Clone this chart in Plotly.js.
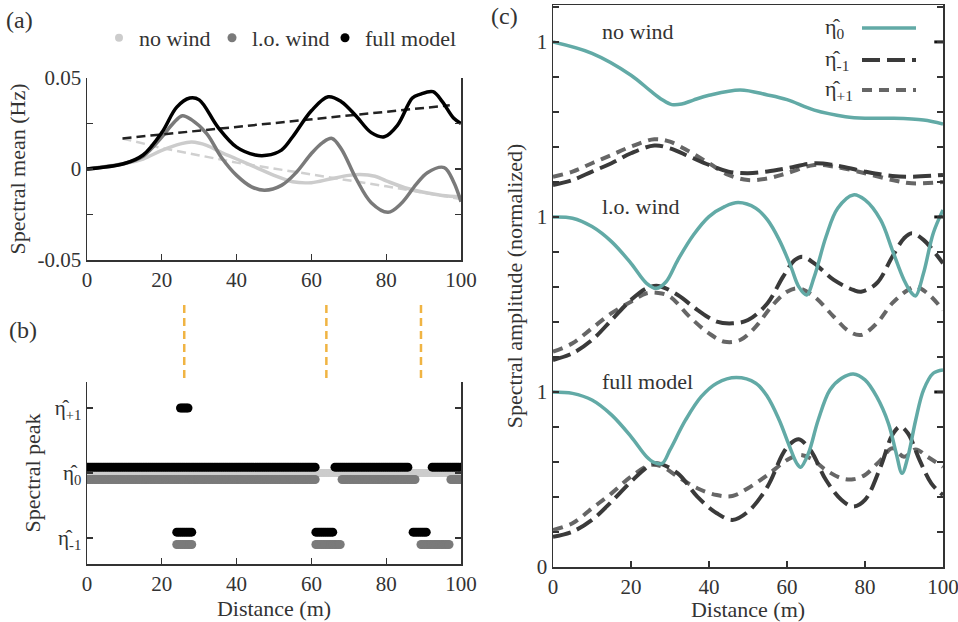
<!DOCTYPE html>
<html>
<head>
<meta charset="utf-8">
<script src="https://cdn.plot.ly/plotly-3.0.1.min.js"></script>
<style>html,body{margin:0;padding:0;background:#fff;}#plot{width:958px;height:622px;}</style>
</head>
<body>
<div id="plot"></div>
<script>
// ---------- Panel (a): spectral mean (Hz) ----------
const aNoX = [0,10,15,20,25,28,32,36,40,45,50,55,60,65,70,73,77,80,85,90,95,100];
const aNoY = [0,0.003,0.0055,0.0102,0.0138,0.0148,0.013,0.009,0.0055,0.001,-0.0035,-0.007,-0.0075,-0.0055,-0.0035,-0.003,-0.004,-0.0065,-0.0103,-0.0128,-0.0145,-0.0152];
const aLoX = [0,10,15,20,23,25.5,28,32,36,40,44,47.5,52,56,60,63,65.5,68,72,76,80.5,84,88,91,95.5,98,100];
const aLoY = [0,0.003,0.007,0.0175,0.025,0.0293,0.027,0.0195,0.0062,-0.0035,-0.0098,-0.0117,-0.009,-0.0018,0.0085,0.0145,0.0168,0.011,-0.0055,-0.0185,-0.0238,-0.019,-0.0085,-0.002,0.0008,-0.007,-0.018];
const aFullX = [0,10,15,20,24,27.5,30,35,40,45,48,52,55,60,64.5,68,72,76,79.5,83,87,89,92.5,95,98,100];
const aFullY = [0,0.003,0.0077,0.02,0.034,0.039,0.038,0.023,0.012,0.0077,0.0075,0.0104,0.0177,0.032,0.0397,0.037,0.029,0.02,0.0177,0.024,0.039,0.041,0.0425,0.037,0.028,0.025];
const aFullTrendX = [9.5,97];
const aFullTrendY = [0.0168,0.035];
const aNoTrendX = [9.5,20,40,60,80,100];
const aNoTrendY = [0.0168,0.0115,0.0035,-0.003,-0.0095,-0.0165];
const aYTicks = [-0.05,0,0.05];
const aYText = ['-0.05','0','0.05'];
const aYMinor = [-0.025,0.025];

// ---------- Panel (b): spectral peak runs ----------
// level: +1 = eta_{+1}, 0 = eta_0, -1 = eta_{-1}; shift = vertical offset of the row
const bFullLevel = [0,0,0,-1,-1,-1,1];
const bFullStart = [0,66.3,92.3,24,61.2,87.2,25];
const bFullEnd   = [61,85.8,100,28,66,91,27.3];
const bFullShift = [0.09,0.09,0.09,0.09,0.09,0.09,0];
const bLoLevel = [0,0,0,-1,-1,-1];
const bLoStart = [0,68.2,97.3,24,61.2,89.3];
const bLoEnd   = [61,88,100,28,68,97];
const bLoShift = [-0.1,-0.1,-0.1,-0.1,-0.1,-0.1];
const bNoLevel = [0];
const bNoStart = [0];
const bNoEnd   = [100];
const bNoShift = [0];
const bStep = 0.5;   // sampling distance of the peak detection (m)
const bYTicks = [-1,0,1];
const bYText = ['η\u0302<sub>-1</sub>','η\u0302<sub>0</sub>','η\u0302<sub>+1</sub>'];
const windowX = [26,64,89.3];

// ---------- Panel (c): spectral amplitudes ----------
const cGroups = ['no wind','l.o. wind','full model'];
const cOffsets = [2,1,0];
const cNoX0 = [0,10,20,25,28,30.5,33,36,40,48,55,60,67,75,80,87,95,100];
const cNoY0 = [1.0,0.935,0.81,0.72,0.67,0.642,0.645,0.668,0.695,0.726,0.697,0.67,0.61,0.573,0.564,0.564,0.554,0.531];
const cNoXm = [0,5,10,15,20,26,30,35,40,45,50,55,60,67,72,80,87,92,100];
const cNoYm = [0.183,0.211,0.259,0.307,0.364,0.408,0.392,0.345,0.297,0.259,0.25,0.26,0.278,0.307,0.297,0.259,0.234,0.23,0.24];
const cNoXp = [0,5,10,15,20,26,30,35,40,45,50,55,60,67,72,80,87,92,100];
const cNoYp = [0.23,0.259,0.307,0.354,0.402,0.444,0.43,0.373,0.307,0.24,0.211,0.22,0.25,0.297,0.288,0.25,0.211,0.192,0.2];
const cLoX0 = [0,5,10,15,20,24,26.5,29,32,36,40,44,47.5,52,55,58,61,63,65,67,70,73,77,80,84,87,90,92,93,95,97.5,100];
const cLoY0 = [1.0,0.993,0.945,0.859,0.735,0.621,0.592,0.63,0.754,0.897,1.002,1.059,1.082,1.05,0.983,0.869,0.716,0.602,0.554,0.659,0.887,1.05,1.126,1.097,0.983,0.811,0.64,0.564,0.549,0.678,0.907,1.04];
const cLoXm = [0,5,10,15,20,24,27,32,37,42,46,50,55,59,62,64,67,72,77,79,83,87,90,92,95,100];
const cLoYm = [0.183,0.221,0.297,0.411,0.526,0.592,0.606,0.554,0.469,0.402,0.392,0.411,0.507,0.659,0.754,0.773,0.735,0.64,0.583,0.573,0.621,0.773,0.878,0.907,0.869,0.735];
const cLoXp = [0,5,10,15,20,24,27,30,35,40,44,48,52,56,60,63,67,72,76,79,83,87,91,93,96,100];
const cLoYp = [0.23,0.278,0.364,0.45,0.516,0.564,0.566,0.545,0.43,0.335,0.287,0.297,0.373,0.488,0.573,0.592,0.545,0.43,0.345,0.326,0.392,0.507,0.583,0.602,0.564,0.469];
const cFullX0 = [0,5,10,15,20,24,26,28,30,34,38,42,47,52,55,58,60.5,62.5,63.5,65.5,68,71,74,77,80,83,86,88,89.5,91,93,95,97.5,100];
const cFullY0 = [1.0,0.992,0.954,0.869,0.745,0.63,0.596,0.592,0.669,0.84,0.973,1.05,1.082,1.05,0.973,0.84,0.697,0.592,0.57,0.65,0.84,1.011,1.078,1.103,1.069,0.973,0.821,0.65,0.535,0.63,0.84,1.011,1.107,1.126];
const cFullXm = [0,5,10,15,20,25,27,32,37,42,46,50,55,59,61,63,66,70,74,77,80,84,87,89,91,94,97,100];
const cFullYm = [0.173,0.202,0.269,0.373,0.488,0.583,0.592,0.535,0.402,0.307,0.269,0.316,0.459,0.65,0.707,0.73,0.669,0.497,0.383,0.345,0.383,0.573,0.754,0.802,0.764,0.611,0.478,0.411];
const cFullXp = [0,5,10,15,20,25,28,32,37,42,46,50,55,60,63,66,70,74,77,80,84,87,90,93,96,100];
const cFullYp = [0.211,0.25,0.335,0.421,0.516,0.583,0.573,0.516,0.45,0.411,0.406,0.45,0.526,0.611,0.64,0.621,0.554,0.507,0.501,0.526,0.611,0.678,0.63,0.672,0.63,0.573];
const cYTicks = [0,1,2,3];
const cYText = ['0','1','1','1'];
const cYMinor = [0.2,0.4,0.6,0.8,1.2,1.4,1.6,1.8,2.2,2.4,2.6,2.8,3.2];
const cLegendNames = ['η\u0302<sub>0</sub>','η\u0302<sub>-1</sub>','η\u0302<sub>+1</sub>'];

// ---------- styles ----------
const FONT = 'Liberation Serif';
const TXT = '#333333';
const cNoColor = '#cccccc', cLoColor = '#7a7a7a', cFullColor = '#000000';
const teal = '#62aaa6', dkgray = '#3a3a3a', mdgray = '#666666';
const longDash = '18px,7px', shortDash = '10px,7px';

function runs(level, start, end, shift){
  const xs = [], ys = [];
  for(let i=0;i<level.length;i++){
    for(let x=start[i]; x<=end[i]+1e-9; x+=bStep){ xs.push(x); ys.push(level[i]+shift[i]); }
  }
  return {xs, ys};
}
const bNo = runs(bNoLevel,bNoStart,bNoEnd,bNoShift);
const bLo = runs(bLoLevel,bLoStart,bLoEnd,bLoShift);
const bFull = runs(bFullLevel,bFullStart,bFullEnd,bFullShift);

const traces = [];
// (a)
traces.push({x:aNoTrendX,y:aNoTrendY,xaxis:'x',yaxis:'y',mode:'lines',line:{color:'#d0d0d0',width:2.5,dash:'9px,5px'},showlegend:false,hoverinfo:'skip'});
traces.push({x:aNoX,y:aNoY,xaxis:'x',yaxis:'y',mode:'lines',line:{color:cNoColor,width:3.5,shape:'spline'},showlegend:false});
traces.push({x:aLoX,y:aLoY,xaxis:'x',yaxis:'y',mode:'lines',line:{color:cLoColor,width:3.5,shape:'spline'},showlegend:false});
traces.push({x:aFullTrendX,y:aFullTrendY,xaxis:'x',yaxis:'y',mode:'lines',line:{color:'#222',width:2.5,dash:'9px,5px'},showlegend:false,hoverinfo:'skip'});
traces.push({x:aFullX,y:aFullY,xaxis:'x',yaxis:'y',mode:'lines',line:{color:cFullColor,width:3.5,shape:'spline'},showlegend:false});
// (b) – these also carry the legend of (a)
traces.push({x:bNo.xs,y:bNo.ys,xaxis:'x2',yaxis:'y2',mode:'markers',name:'no wind',marker:{color:cNoColor,size:8}});
traces.push({x:bLo.xs,y:bLo.ys,xaxis:'x2',yaxis:'y2',mode:'markers',name:'l.o. wind',marker:{color:cLoColor,size:9}});
traces.push({x:bFull.xs,y:bFull.ys,xaxis:'x2',yaxis:'y2',mode:'markers',name:'full model',legendwidth:112,marker:{color:cFullColor,size:9}});
// window lines between (a) and (b)
windowX.forEach(w=>{
  traces.push({x:[w,w],y:[0,1],xaxis:'x4',yaxis:'y4',mode:'lines',line:{color:'#f0b443',width:2.5,dash:'8px,5px'},showlegend:false,hoverinfo:'skip'});
});
// (c)
const cSets = [
  [cNoX0,cNoY0,cNoXm,cNoYm,cNoXp,cNoYp],
  [cLoX0,cLoY0,cLoXm,cLoYm,cLoXp,cLoYp],
  [cFullX0,cFullY0,cFullXm,cFullYm,cFullXp,cFullYp]
];
cSets.forEach((s,gi)=>{
  const off = cOffsets[gi];
  const sh = v=>v.map(q=>q+off);
  traces.push({x:s[4],y:sh(s[5]),xaxis:'x3',yaxis:'y3',mode:'lines',line:{color:mdgray,width:4,dash:shortDash,shape:'spline'},showlegend:false});
  traces.push({x:s[2],y:sh(s[3]),xaxis:'x3',yaxis:'y3',mode:'lines',line:{color:dkgray,width:4,dash:longDash,shape:'spline'},showlegend:false});
  traces.push({x:s[0],y:sh(s[1]),xaxis:'x3',yaxis:'y3',mode:'lines',line:{color:teal,width:3.5,shape:'spline'},showlegend:false});
});
// reference marks at the normalisation level of each group (right edge)
traces.push({x:cOffsets.map(()=>99.2),y:cOffsets.map(o=>o+1),xaxis:'x3',yaxis:'y3',mode:'markers',
  marker:{symbol:'line-ew',size:8,line:{color:'#111',width:3}},showlegend:false,hoverinfo:'skip'});

// ---------- layout helpers ----------
const W=958,H=622;
const px = v=>v/W, py = v=>1-v/H;
const tickFont = {family:FONT,size:21,color:TXT};
const titleFont = {family:FONT,size:22,color:TXT};
const axBase = {showgrid:false,zeroline:false,showline:true,linecolor:'#333',linewidth:1.5,ticks:'inside',ticklen:6,tickcolor:'#333',tickwidth:1.3,tickfont:tickFont,ticklabeloverflow:'allow'};
const minorTicks = v=>({tickmode:'array',tickvals:v,ticks:'inside',ticklen:6,tickcolor:'#333',tickwidth:1.3,showgrid:false});

const layout = {
  width:W,height:H,margin:{l:0,r:0,t:0,b:0},paper_bgcolor:'#fff',plot_bgcolor:'rgba(0,0,0,0)',
  font:{family:FONT,color:TXT,size:21},
  showlegend:true,
  legend:{orientation:'h',x:px(99),y:py(38),xanchor:'left',yanchor:'middle',font:{family:FONT,size:22,color:TXT},
          bgcolor:'rgba(0,0,0,0)',itemwidth:30,tracegroupgap:0,entrywidth:68,entrywidthmode:'pixels'},
  xaxis:Object.assign({},axBase,{domain:[px(87),px(461)],range:[0,100],anchor:'y',tickvals:[0,20,40,60,80,100],mirror:false}),
  yaxis:Object.assign({},axBase,{domain:[py(260),py(78)],range:[-0.05,0.05],anchor:'x',tickvals:aYTicks,ticktext:aYText,mirror:'ticks',
          minor:minorTicks(aYMinor),title:{text:'Spectral mean (Hz)',font:titleFont,standoff:6}}),
  xaxis2:Object.assign({},axBase,{domain:[px(87),px(461)],range:[0,100],anchor:'y2',tickvals:[0,20,40,60,80,100],mirror:false,
          title:{text:'Distance (m)',font:titleFont,standoff:4}}),
  yaxis2:Object.assign({},axBase,{domain:[py(564),py(382)],range:[-1.4,1.4],anchor:'x2',tickvals:bYTicks,ticktext:bYText,mirror:'ticks',
          title:{text:'Spectral peak',font:titleFont,standoff:8}}),
  xaxis3:Object.assign({},axBase,{domain:[px(553),px(943)],range:[0,100],anchor:'y3',tickvals:[0,20,40,60,80,100],mirror:true,
          title:{text:'Distance (m)',font:titleFont,standoff:4}}),
  yaxis3:Object.assign({},axBase,{domain:[py(567),py(5)],range:[0,3.211],anchor:'x3',tickvals:cYTicks,ticktext:cYText,mirror:'ticks',
          minor:minorTicks(cYMinor),title:{text:'Spectral amplitude (normalized)',font:titleFont,standoff:8}}),
  xaxis4:{domain:[px(87),px(461)],range:[0,100],anchor:'y4',visible:false,showgrid:false,zeroline:false},
  yaxis4:{domain:[py(378),py(303)],range:[0,1],anchor:'x4',visible:false,showgrid:false,zeroline:false},
  annotations:[
    {text:'(a)',xref:'paper',yref:'paper',x:px(4),y:py(20),xanchor:'left',yanchor:'middle',showarrow:false,font:{family:FONT,size:24,color:TXT}},
    {text:'(b)',xref:'paper',yref:'paper',x:px(7),y:py(330),xanchor:'left',yanchor:'middle',showarrow:false,font:{family:FONT,size:24,color:TXT}},
    {text:'(c)',xref:'paper',yref:'paper',x:px(489),y:py(16),xanchor:'left',yanchor:'middle',showarrow:false,font:{family:FONT,size:24,color:TXT}}
  ].concat(cGroups.map((g,i)=>({text:g,xref:'x3',yref:'y3',x:12,y:cOffsets[i]+1.06,xanchor:'left',yanchor:'middle',showarrow:false,font:{family:FONT,size:22,color:TXT}})))
   .concat(cLegendNames.map((n,i)=>({text:n,xref:'paper',yref:'paper',x:px(823),y:py([28,60,90][i]),xanchor:'left',yanchor:'middle',showarrow:false,font:{family:FONT,size:22,color:TXT}}))),
  shapes:[
    {type:'line',xref:'paper',yref:'paper',x0:px(862),x1:px(916),y0:py(28),y1:py(28),line:{color:teal,width:3.5}},
    {type:'line',xref:'paper',yref:'paper',x0:px(862),x1:px(916),y0:py(60),y1:py(60),line:{color:dkgray,width:4,dash:longDash}},
    {type:'line',xref:'paper',yref:'paper',x0:px(862),x1:px(916),y0:py(90),y1:py(90),line:{color:mdgray,width:4,dash:shortDash}}
  ]
};
Plotly.newPlot('plot',traces,layout,{displayModeBar:false,staticPlot:true});
</script>
</body>
</html>
